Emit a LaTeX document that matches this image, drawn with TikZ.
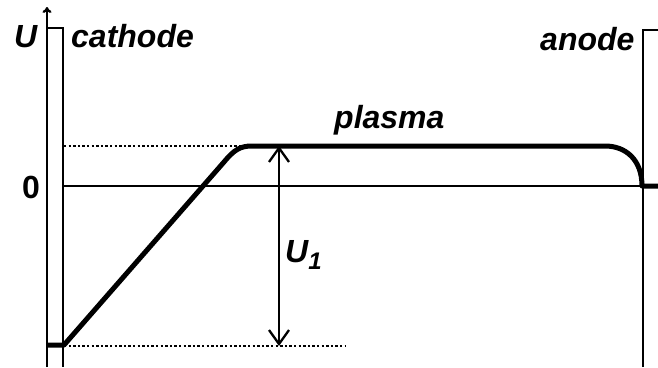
\documentclass[tikz,border=0pt]{standalone}
\usepackage{fontspec}
\setmainfont{Liberation Sans}
\usetikzlibrary{arrows.meta}
\begin{document}
\begin{tikzpicture}[x=1pt,y=-1pt,
  lbl/.style={font=\fontsize{32}{32}\selectfont\bfseries\itshape, inner sep=0pt, anchor=base west},
  thin/.style={line width=2.3pt},
  thick/.style={line width=5pt},
  dots/.style={line width=2.3pt, dash pattern=on 2.3pt off 2.3pt}]
\useasboundingbox (0,0) rectangle (658,367);
% coordinates
\coordinate (cbot) at (47,367);
\coordinate (ctop) at (47,7);
\coordinate (crt) at (47,28);
\coordinate (crr) at (63,28);
\coordinate (crb) at (63,367);
\coordinate (abot) at (643,367);
\coordinate (atop) at (643,30);
\coordinate (aright) at (658,30);
\coordinate (ax0) at (63,186);
\coordinate (ax1) at (658,186);
\coordinate (k0) at (46,345);
\coordinate (k1) at (64,345);
\coordinate (k2) at (224,162);
\coordinate (p0) at (252,146);
\coordinate (p1) at (605,146);
\coordinate (p2) at (642,186);
\coordinate (d0) at (64,146);
\coordinate (d1) at (64,346);
\coordinate (d2) at (346,346);
\coordinate (u0) at (279,146);
\coordinate (u1) at (279,346);
% cathode & U axis
\draw[thin,-{To[length=6pt,width=9pt]}] (cbot) -- (ctop);
\draw[thin] (crt) -- (crr) -- (crb);
% anode
\draw[thin] (abot) -- (atop) -- (aright);
% zero axis
\draw[thin] (ax0) -- (ax1);
% dotted lines
\draw[dots] (d0) -- (p0);
\draw[dots] (d1) -- (d2);
% potential curve
\draw[thick, line join=round] (k0) -- (k1) -- (k2) .. controls (234,150) and (240,146) .. (p0) -- (p1)
   .. controls (626,146) and (642,160) .. (p2) -- (ax1);
% U1 arrow
\draw[thin,{Straight Barb[length=14pt,width=20pt]}-{Straight Barb[length=14pt,width=20pt]}] (u0) -- (u1);
% labels
\node[lbl] (U) at (14,47) {U};
\node[lbl] (cath) at (71,47) {cathode};
\node[lbl] (an) at (540,50) {anode};
\node[lbl] (pl) at (334,128) {plasma};
\node[lbl, font=\fontsize{32}{32}\selectfont\bfseries] (zero) at (22,198) {0};
\node[lbl] (u1l) at (285,262) {U\textsubscript{\fontsize{24}{24}\selectfont 1}};
\end{tikzpicture}
\end{document}
